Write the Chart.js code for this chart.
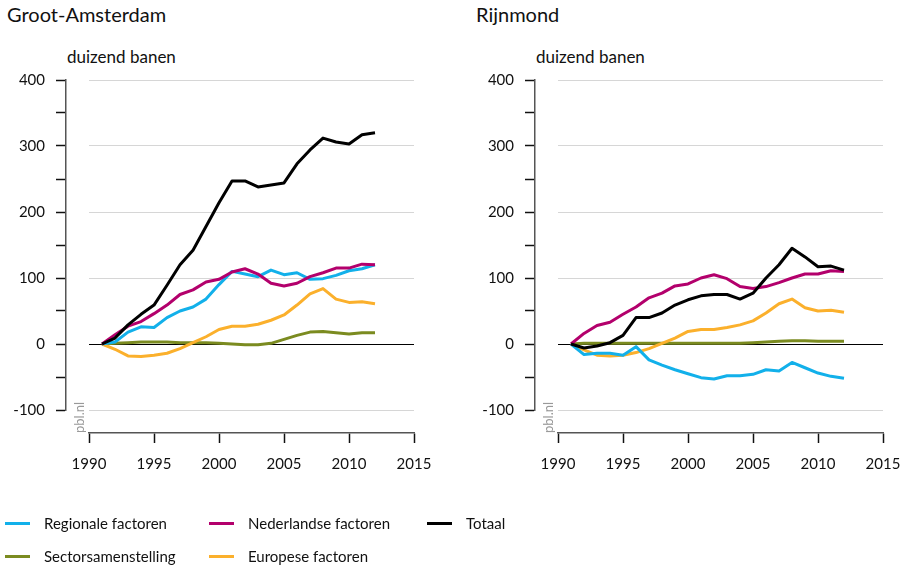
<!DOCTYPE html>
<html>
<head>
<meta charset="utf-8">
<script src="https://cdn.jsdelivr.net/npm/chart.js@4"></script>
<style>
body { margin: 0; width: 902px; height: 567px; position: relative; background: #fff; font-family: Lato, sans-serif; color: #111; overflow: hidden; }
.title { position: absolute; top: 2px; font-size: 20px; }
.unit { position: absolute; top: 46px; font-size: 17px; }
.pbl { position: absolute; font-size: 13px; line-height: 13px; color: #999; transform-origin: left top; transform: rotate(-90deg); white-space: nowrap; }
canvas { position: absolute; top: 60px; }
.leg { position: absolute; font-size: 15px; line-height: 20px; white-space: nowrap; }
.leg i { position: absolute; left: 0; top: 9px; width: 25px; height: 3px; }
.leg span { position: absolute; left: 39px; top: 0; }
</style>
</head>
<body>
<div class="title" style="left:7px">Groot-Amsterdam</div>
<div class="title" style="left:476px">Rijnmond</div>
<div class="unit" style="left:67px">duizend banen</div>
<div class="unit" style="left:536px">duizend banen</div>

<canvas id="chartAms" width="440" height="430" style="left:0"></canvas>
<canvas id="chartRij" width="433" height="430" style="left:469px"></canvas>

<div class="pbl" style="left:73px;top:433px">pbl.nl</div>
<div class="pbl" style="left:542px;top:433px">pbl.nl</div>

<div id="legend"></div>

<script>
// jaren en reeksen (duizend banen)
const years = [1991, 1992, 1993, 1994, 1995, 1996, 1997, 1998, 1999, 2000, 2001,
               2002, 2003, 2004, 2005, 2006, 2007, 2008, 2009, 2010, 2011, 2012];

const seriesNames = ['Regionale factoren', 'Nederlandse factoren', 'Totaal', 'Sectorsamenstelling', 'Europese factoren'];
const seriesColors = ['#12b0ea', '#b3006c', '#000000', '#7b8b20', '#fbb02c'];
const seriesOrder = [2, 1, 0, 4, 3];

// Groot-Amsterdam
const amsRegionaal = [0, 3, 18, 26, 25, 40, 50, 56, 68, 90, 110, 106, 102, 112, 105, 108, 98, 99, 104, 111, 114, 120];
const amsNederland = [0, 14, 27, 34, 46, 59, 75, 82, 94, 98, 109, 114, 106, 92, 88, 92, 102, 108, 115, 115, 121, 120];
const amsTotaal    = [0, 9, 29, 45, 59, 89, 120, 142, 178, 214, 247, 247, 238, 241, 244, 273, 294, 312, 306, 303, 317, 320];
const amsSector    = [0, 1, 2, 3, 3, 3, 2, 2, 2, 1, 0, -1, -1, 1, 7, 13, 18, 19, 17, 15, 17, 17];
const amsEuropa    = [0, -8, -18, -19, -17, -14, -7, 2, 11, 22, 27, 27, 30, 36, 44, 59, 76, 84, 68, 63, 64, 61];

// Rijnmond
const rijRegionaal = [0, -16, -14, -14, -17, -4, -24, -32, -39, -45, -51, -53, -48, -48, -46, -39, -41, -28, -36, -44, -49, -52];
const rijNederland = [0, 16, 28, 33, 45, 56, 70, 77, 88, 91, 100, 105, 99, 87, 84, 87, 93, 100, 106, 106, 111, 110];
const rijTotaal    = [0, -6, -3, 2, 13, 40, 40, 47, 59, 67, 73, 75, 75, 68, 77, 100, 120, 145, 132, 117, 118, 112];
const rijSector    = [0, 1, 1, 1, 1, 1, 1, 1, 1, 1, 1, 1, 1, 1, 2, 3, 4, 5, 5, 4, 4, 4];
const rijEuropa    = [0, -9, -17, -18, -17, -13, -7, 1, 9, 19, 22, 22, 25, 29, 35, 47, 61, 68, 55, 50, 51, 48];

// assen
const xTicks = [1990, 1995, 2000, 2005, 2010, 2015];
const yTicks = [-100, -50, 0, 50, 100, 150, 200, 250, 300, 350, 400];

Chart.defaults.font.family = 'Lato';
Chart.defaults.font.size = 15;
Chart.defaults.color = '#111';

const setXTicks = (scale) => { scale.ticks = xTicks.map(v => ({ value: v })); };
const setYTicks = (scale) => { scale.ticks = yTicks.map(v => ({ value: v })); };

function makeChart(canvasId, seriesValues, padRight) {
    const datasets = seriesValues.map((vals, i) => ({
        label: seriesNames[i],
        data: years.map((yr, j) => ({ x: yr, y: vals[j] })),
        xAxisID: 'x',
        yAxisID: 'y',
        borderColor: seriesColors[i],
        borderWidth: 3,
        pointRadius: 0,
        fill: false,
        tension: 0,
        borderJoinStyle: 'round',
        order: seriesOrder[i]
    }));

    const xRange = { type: 'linear', min: xTicks[0], max: xTicks[xTicks.length - 1], afterBuildTicks: setXTicks };
    const yRange = { type: 'linear', min: yTicks[0], max: yTicks[yTicks.length - 1], afterBuildTicks: setYTicks };

    return new Chart(document.getElementById(canvasId), {
        type: 'line',
        data: { datasets },
        options: {
            responsive: false,
            animation: false,
            devicePixelRatio: 1,
            layout: { padding: { left: 0, right: padRight, top: 20, bottom: 10 } },
            plugins: { legend: { display: false }, tooltip: { enabled: false } },
            scales: {
                // dataschalen tegen het plotvlak; laten alleen ruimte tot de losse as
                x: {
                    ...xRange,
                    axis: 'x',
                    position: 'bottom',
                    weight: 0,
                    afterFit: (s) => { s.height = 23; s.paddingLeft = 0; s.paddingRight = 0; },
                    grid: { display: false, drawTicks: false },
                    border: { display: false },
                    ticks: { display: false }
                },
                y: {
                    ...yRange,
                    axis: 'y',
                    position: 'left',
                    weight: 0,
                    afterFit: (s) => { s.width = 23; s.paddingTop = 0; s.paddingBottom = 0; },
                    grid: {
                        drawTicks: false,
                        lineWidth: 1,
                        color: (c) => {
                            const v = c.tick && c.tick.value;
                            if (v === 0) return '#000';
                            return v % 100 === 0 ? '#d6d6d6' : 'rgba(0,0,0,0)';
                        }
                    },
                    border: { display: false },
                    ticks: { display: false }
                },
                // losstaande assen met streepjes en labels
                xAxis: {
                    ...xRange,
                    axis: 'x',
                    position: 'bottom',
                    weight: 1,
                    afterFit: (s) => { s.height = 47; s.paddingLeft = 0; s.paddingRight = 0; },
                    grid: { drawOnChartArea: false, drawTicks: true, tickLength: 10, tickColor: '#111', tickWidth: 1.5 },
                    border: { display: true, color: '#555', width: 1.5 },
                    ticks: { padding: 12, maxRotation: 0, autoSkip: false, callback: (v) => String(v) }
                },
                yAxis: {
                    ...yRange,
                    axis: 'y',
                    position: 'left',
                    weight: 1,
                    afterFit: (s) => { s.width = 66; s.paddingTop = 0; s.paddingBottom = 0; },
                    grid: { drawOnChartArea: false, drawTicks: true, tickLength: 10, tickColor: '#111', tickWidth: 1.5 },
                    border: { display: true, color: '#555', width: 1.5 },
                    ticks: { padding: 11, autoSkip: false, callback: (v) => (v % 100 === 0 ? String(v) : '') }
                }
            }
        }
    });
}

makeChart('chartAms', [amsRegionaal, amsNederland, amsTotaal, amsSector, amsEuropa], 26);
makeChart('chartRij', [rijRegionaal, rijNederland, rijTotaal, rijSector, rijEuropa], 19);

// legenda
const legendCols = [5, 209, 427];
const legendRows = [513, 546];
const legendEl = document.getElementById('legend');
seriesNames.forEach((name, i) => {
    const item = document.createElement('div');
    item.className = 'leg';
    item.style.left = legendCols[i % 3] + 'px';
    item.style.top = legendRows[Math.floor(i / 3)] + 'px';
    item.innerHTML = `<i style="background:${seriesColors[i]}"></i><span>${name}</span>`;
    legendEl.appendChild(item);
});
</script>
</body>
</html>
